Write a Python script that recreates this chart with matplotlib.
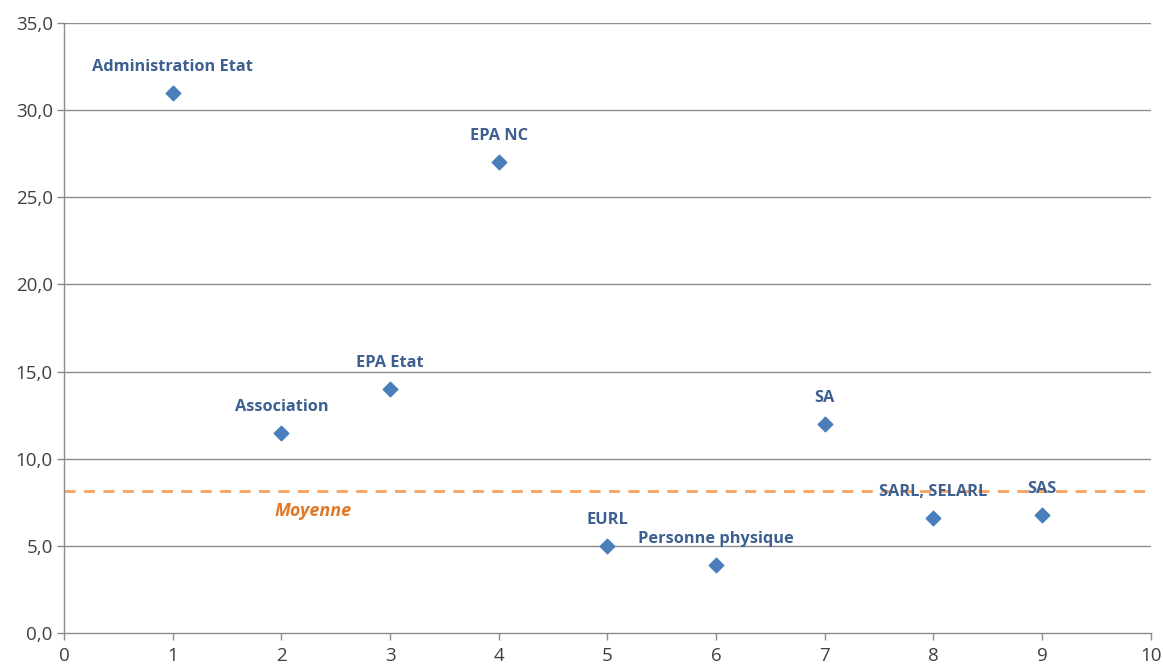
import numpy as np
import matplotlib.pyplot as plt
from matplotlib.ticker import FuncFormatter

# valeurs
categories = ['Administration Etat', 'Association', 'EPA Etat', 'EPA NC', 'EURL',
              'Personne physique', 'SA', 'SARL, SELARL', 'SAS']
x_vals = [1, 2, 3, 4, 5, 6, 7, 8, 9]
y_vals = [31.0, 11.5, 14.0, 27.0, 5.0, 3.9, 12.0, 6.6, 6.75]
moyenne = 8.15

plt.rcParams['font.family'] = ['Open Sans', 'DejaVu Sans']

fig = plt.figure(figsize=(11.63, 6.66), dpi=100)
ax = fig.add_axes([0.055, 0.0495, 0.9345, 0.916])

grid_col = '#8c8c8c'
for v in np.arange(5, 36, 5):
    ax.axhline(v, color=grid_col, linewidth=1.0, zorder=1)

ax.axhline(moyenne, color='#F5A260', linewidth=2.0, linestyle=(0, (4, 3)), zorder=2)
ax.text(2.29, 7.0, 'Moyenne', color='#E0782A', fontsize=13, fontweight='bold',
        fontstyle='italic', ha='center', va='center')

ax.scatter(x_vals, y_vals, marker='D', s=55, color='#4A7EBB', zorder=3)

for name, xv, yv in zip(categories, x_vals, y_vals):
    ax.annotate(name, (xv, yv), xytext=(0, 26), textcoords='offset pixels',
                ha='center', va='center', fontsize=11.8, fontweight='bold',
                color='#3D6090', zorder=4)

ax.set_xlim(0, 10)
ax.set_ylim(0, 35)
ax.set_xticks(range(0, 11))
ax.set_yticks(np.arange(0, 36, 5))
ax.yaxis.set_major_formatter(FuncFormatter(lambda v, p: f'{v:.1f}'.replace('.', ',')))

for s in ['top', 'right']:
    ax.spines[s].set_visible(False)
for s in ['left', 'bottom']:
    ax.spines[s].set_color(grid_col)
    ax.spines[s].set_linewidth(1.0)

ax.tick_params(axis='both', colors=grid_col, labelcolor='#404040', labelsize=13.5,
               length=5, width=1.0, direction='out')
ax.tick_params(axis='x', pad=5)
ax.tick_params(axis='y', pad=3)

fig.savefig('out.png', dpi=100)
